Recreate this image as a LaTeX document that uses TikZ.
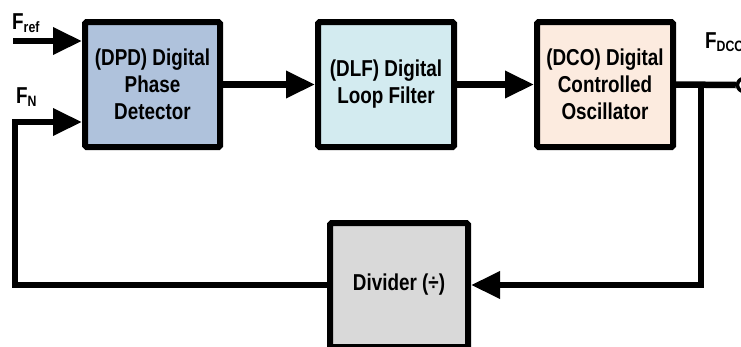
\documentclass[tikz,border=0pt]{standalone}
\usepackage{fontspec}
\setmainfont{Liberation Sans}[FakeStretch=0.82]
\usetikzlibrary{arrows.meta}
\definecolor{dpdfill}{HTML}{AFC2DC}
\definecolor{dlffill}{HTML}{D3EBF0}
\definecolor{dcofill}{HTML}{FCEBDF}
\definecolor{divfill}{HTML}{D9D9D9}
\tikzset{
  blk/.style={draw=black, line width=6pt, rounded corners=1.5pt, align=center,
    font=\bfseries\fontsize{23}{27}\selectfont, inner sep=0pt},
  conn/.style={line width=6.5pt, -{Triangle[length=29pt,width=26pt]}},
  wire/.style={line width=6.5pt},
  lbl/.style={font=\bfseries\fontsize{23}{27}\selectfont, inner sep=0pt, anchor=base west}
}
\begin{document}
\begin{tikzpicture}[x=1pt,y=-1pt]
\useasboundingbox (0,0) rectangle (741,346);
\node[blk, fill=dpdfill, minimum width=135pt, minimum height=125pt] (dpd) at (152.5,84.5) {(DPD) Digital\\Phase\\Detector};
\node[blk, fill=dlffill, minimum width=136pt, minimum height=125pt] (dlf) at (386,84.5) {(DLF) Digital\\Loop Filter};
\node[blk, fill=dcofill, minimum width=136pt, minimum height=125pt] (dco) at (605,84.5) {(DCO) Digital\\Controlled\\Oscillator};
\node[blk, fill=divfill, minimum width=138pt, minimum height=124pt] (div) at (399,285) {Divider (÷)};
\coordinate (fref) at (13,41);
\coordinate (fnc) at (15,122);
\coordinate (tap) at (701,85);
\node[circle, draw=black, fill=white, line width=3.5pt, minimum size=13pt, inner sep=0pt] (out) at (744,85) {};
\draw[conn] (fref) -- (fref -| dpd.west);
\draw[conn] (div.west) -| (fnc) -- (fnc -| dpd.west);
\draw[conn] (dpd.east) -- (dlf.west);
\draw[conn] (dlf.east) -- (dco.west);
\draw[wire] (dco.east) -- (out.west);
\draw[conn] (tap) |- (div.east);
\node[lbl] (lfref) at (12,29) {F\textsubscript{\fontsize{15}{15}\selectfont ref}};
\node[lbl] (lfn) at (16,103) {F\textsubscript{\fontsize{15}{15}\selectfont N}};
\node[lbl] (lfdco) at (705,48) {F\textsubscript{\fontsize{15}{15}\selectfont DCO}};
\end{tikzpicture}
\end{document}
